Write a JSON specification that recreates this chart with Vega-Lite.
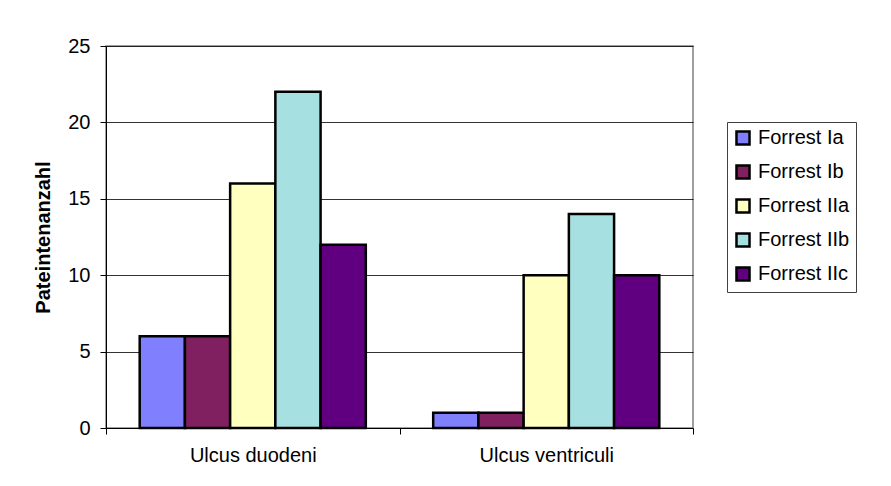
{
  "$schema": "https://vega.github.io/schema/vega-lite/v6.json",
  "width": 587,
  "height": 382,
  "autosize": {"type": "none"},
  "padding": {"left": 106, "top": 46, "right": 198, "bottom": 58},
  "background": "white",
  "config": {
    "font": "Liberation Sans",
    "view": {"stroke": "#808080", "strokeWidth": 1.5}
  },
  "data": {
    "values": [
      {"cat": "Ulcus duodeni", "grade": "Forrest Ia", "n": 6},
      {"cat": "Ulcus duodeni", "grade": "Forrest Ib", "n": 6},
      {"cat": "Ulcus duodeni", "grade": "Forrest IIa", "n": 16},
      {"cat": "Ulcus duodeni", "grade": "Forrest IIb", "n": 22},
      {"cat": "Ulcus duodeni", "grade": "Forrest IIc", "n": 12},
      {"cat": "Ulcus ventriculi", "grade": "Forrest Ia", "n": 1},
      {"cat": "Ulcus ventriculi", "grade": "Forrest Ib", "n": 1},
      {"cat": "Ulcus ventriculi", "grade": "Forrest IIa", "n": 10},
      {"cat": "Ulcus ventriculi", "grade": "Forrest IIb", "n": 14},
      {"cat": "Ulcus ventriculi", "grade": "Forrest IIc", "n": 10}
    ]
  },
  "mark": {"type": "bar", "stroke": "black", "strokeWidth": 2.5},
  "encoding": {
    "x": {
      "field": "cat",
      "type": "nominal",
      "scale": {"paddingInner": 0, "paddingOuter": 0},
      "axis": {
        "title": null,
        "labelAngle": 0,
        "labelFontSize": 20,
        "labelColor": "black",
        "labelPadding": 11,
        "tickBand": "extent",
        "tickSize": 6,
        "tickColor": "black",
        "domainColor": "black",
        "grid": false
      }
    },
    "xOffset": {
      "field": "grade",
      "type": "nominal",
      "sort": ["Forrest Ia", "Forrest Ib", "Forrest IIa", "Forrest IIb", "Forrest IIc"],
      "scale": {"paddingInner": 0, "paddingOuter": 0.745}
    },
    "y": {
      "field": "n",
      "type": "quantitative",
      "scale": {"domain": [0, 25], "nice": false},
      "axis": {
        "values": [0, 5, 10, 15, 20, 25],
        "title": "Pateintenanzahl",
        "titleFontSize": 20,
        "titleFontWeight": "bold",
        "titleColor": "black",
        "titlePadding": 14,
        "labelFontSize": 20,
        "labelColor": "black",
        "labelPadding": 10,
        "tickSize": 6,
        "tickColor": "black",
        "domainColor": "black",
        "gridColor": "black",
        "gridOpacity": 0.8
      }
    },
    "color": {
      "field": "grade",
      "type": "nominal",
      "sort": ["Forrest Ia", "Forrest Ib", "Forrest IIa", "Forrest IIb", "Forrest IIc"],
      "scale": {
        "domain": ["Forrest Ia", "Forrest Ib", "Forrest IIa", "Forrest IIb", "Forrest IIc"],
        "range": ["#8080ff", "#802060", "#ffffc0", "#a6e0e0", "#600080"]
      },
      "legend": {
        "title": null,
        "orient": "none",
        "legendX": 621,
        "legendY": 76,
        "symbolType": "square",
        "symbolSize": 170,
        "symbolStrokeColor": "black",
        "symbolStrokeWidth": 2.5,
        "labelFontSize": 20,
        "labelColor": "black",
        "labelOffset": 5,
        "rowPadding": 10,
        "padding": 6,
        "strokeColor": "#404040",
        "fillColor": "white"
      }
    }
  }
}
